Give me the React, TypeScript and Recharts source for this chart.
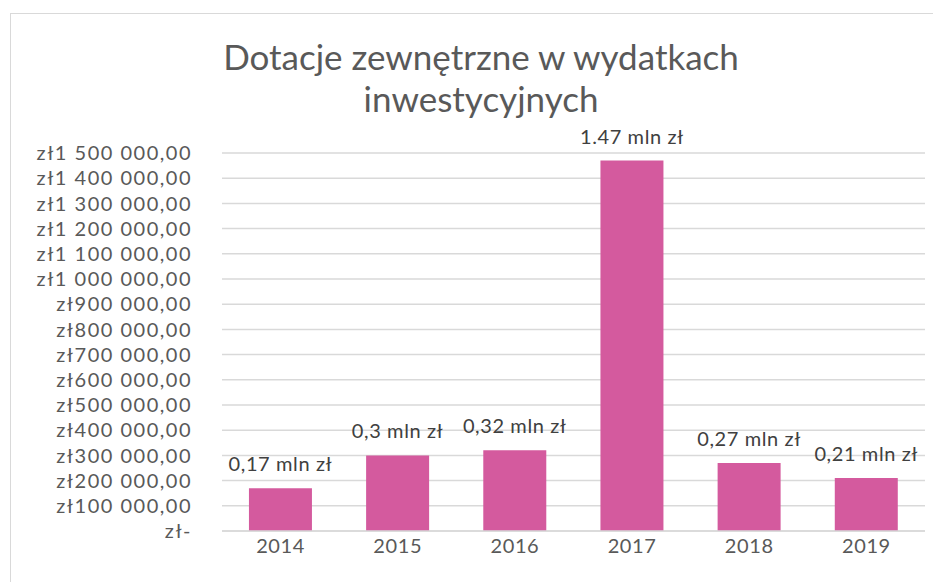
import { Bar, BarChart, CartesianGrid, LabelList, XAxis, YAxis } from "recharts";

const years = ["2014", "2015", "2016", "2017", "2018", "2019"];
const grants = [170000, 300000, 320000, 1470000, 270000, 210000];
const barLabels = ["0,17 mln zł", "0,3 mln zł", "0,32 mln zł", "1.47 mln zł", "0,27 mln zł", "0,21 mln zł"];
const yTicks = [0, 100000, 200000, 300000, 400000, 500000, 600000, 700000, 800000, 900000, 1000000, 1100000, 1200000, 1300000, 1400000, 1500000];

const FONT = "Lato, 'Open Sans', sans-serif";

function formatZl(value: number) {
  if (value === 0) return "zł-";
  const s = String(Math.round(value)).replace(/\B(?=(\d{3})+(?!\d))/g, " ");
  return `zł${s},00`;
}

function TopLabel(props: any) {
  const { x, y, width, value } = props;
  return (
    <text
      x={Number(x) + Number(width) / 2}
      y={Number(y) - 17}
      textAnchor="middle"
      fill="#404040"
      fontSize={20}
      letterSpacing={0.6}
      fontFamily={FONT}
    >
      {value}
    </text>
  );
}

export default function App() {
  const data = years.map((year, i) => ({ year, value: grants[i], label: barLabels[i] }));

  return (
    <div
      style={{
        position: "relative",
        marginLeft: 2,
        marginTop: 5,
        width: 960,
        height: 600,
        border: "1.5px solid #d9d9d9",
        background: "#ffffff",
        fontFamily: FONT
      }}
    >
      <div
        style={{
          position: "absolute",
          top: 21,
          left: 0,
          width: 940,
          textAlign: "center",
          fontSize: 35,
          lineHeight: "42px",
          color: "#595959"
        }}
      >
        Dotacje zewnętrzne w wydatkach
        <br />
        inwestycyjnych
      </div>
      <BarChart
        width={940}
        height={580}
        data={data}
        margin={{ top: 139, right: 26, bottom: 23, left: 0 }}
        barCategoryGap="23%"
      >
        <CartesianGrid stroke="#d9d9d9" strokeWidth={1.5} vertical={false} />
        <XAxis
          dataKey="year"
          height={40}
          stroke="#d9d9d9"
          strokeWidth={1.5}
          tickLine={false}
          tickSize={0}
          tickMargin={8}
          tick={{ fill: "#595959", fontSize: 20, fontFamily: FONT, letterSpacing: 0.6 }}
        />
        <YAxis
          width={211}
          domain={[0, 1500000]}
          ticks={yTicks}
          interval={0}
          axisLine={false}
          tickLine={false}
          tickSize={0}
          tickMargin={30}
          tickFormatter={formatZl}
          tick={{ fill: "#595959", fontSize: 20, fontFamily: FONT, letterSpacing: 1.5 }}
        />
        <Bar dataKey="value" fill="#d45a9e" isAnimationActive={false}>
          <LabelList dataKey="label" content={<TopLabel />} />
        </Bar>
      </BarChart>
    </div>
  );
}
